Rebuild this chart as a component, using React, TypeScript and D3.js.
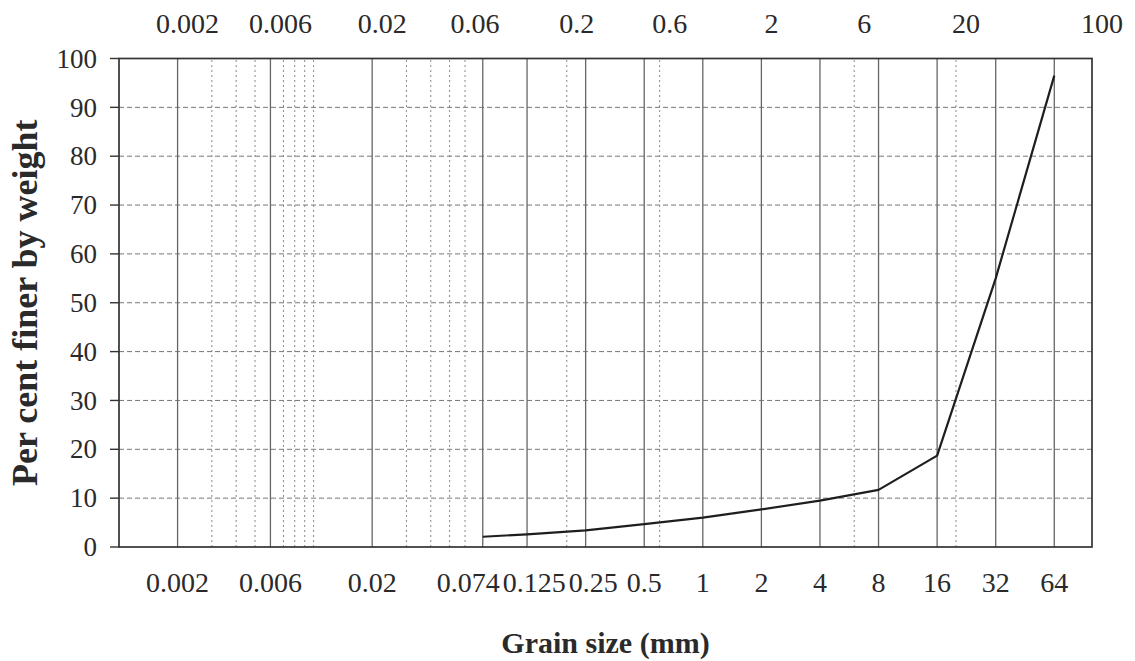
import React, { useEffect, useRef } from 'react';
import * as d3 from 'd3';

// sieve sizes drawn as solid lines and labelled under the axis
const sieveSizes = [0.002, 0.006, 0.02, 0.074, 0.125, 0.25, 0.5, 1, 2, 4, 8, 16, 32, 64];
// extra dotted lines
const minorSizes = [0.003, 0.004, 0.005, 0.007, 0.008, 0.009, 0.01, 0.03, 0.04, 0.05, 0.06, 0.2, 0.6, 6, 20];
// class boundaries written along the top
const boundaryLabels = ['0.002', '0.006', '0.02', '0.06', '0.2', '0.6', '2', '6', '20', '100'];
const yTicks = [0, 10, 20, 30, 40, 50, 60, 70, 80, 90, 100];

// grading curve
const grainSize = [0.074, 0.125, 0.25, 0.5, 1, 2, 4, 8, 16, 32, 64];
const percentFiner = [2.1, 2.6, 3.4, 4.7, 6.0, 7.7, 9.5, 11.7, 18.7, 55, 96.5];

const W = 1135, H = 661;
const margin = { top: 58.5, right: 43, bottom: 114, left: 119 };
const FONT = '"Liberation Serif", "Times New Roman", serif';
const INK = '#2a2a2a';

const draw = (node: SVGSVGElement | null) => {
  if (!node) return;
  const svg = d3.select(node);
  svg.selectAll('*').remove();

  const x = d3.scaleLog().domain([0.001, 100]).range([margin.left, W - margin.right]);
  const y = d3.scaleLinear().domain([0, 100]).range([H - margin.bottom, margin.top]);
  const [y0, y1] = [y(0), y(100)];
  const [x0, x1] = x.range();

  svg.append('rect').attr('width', W).attr('height', H).attr('fill', '#fff');

  // horizontal dashed grid
  svg.append('g').selectAll('line')
    .data(yTicks.filter(d => d > 0 && d < 100))
    .join('line')
    .attr('x1', x0).attr('x2', x1)
    .attr('y1', d => y(d)).attr('y2', d => y(d))
    .attr('stroke', '#777').attr('stroke-width', 1)
    .attr('stroke-dasharray', '5,3');

  // dotted vertical lines
  svg.append('g').selectAll('line')
    .data(minorSizes)
    .join('line')
    .attr('x1', d => x(d)).attr('x2', d => x(d))
    .attr('y1', y0).attr('y2', y1)
    .attr('stroke', '#888').attr('stroke-width', 1)
    .attr('stroke-dasharray', '2,3');

  // solid vertical lines
  svg.append('g').selectAll('line')
    .data(sieveSizes)
    .join('line')
    .attr('x1', d => x(d)).attr('x2', d => x(d))
    .attr('y1', y0).attr('y2', y1)
    .attr('stroke', '#666').attr('stroke-width', 1.3);

  // frame
  svg.append('rect')
    .attr('x', x0).attr('y', y1)
    .attr('width', x1 - x0).attr('height', y0 - y1)
    .attr('fill', 'none').attr('stroke', '#333').attr('stroke-width', 1.7);

  // y ticks + labels
  const yAxis = svg.append('g');
  yAxis.selectAll('line')
    .data(yTicks)
    .join('line')
    .attr('x1', x0 - 9).attr('x2', x0)
    .attr('y1', d => y(d)).attr('y2', d => y(d))
    .attr('stroke', '#333').attr('stroke-width', 1.4);
  yAxis.selectAll('text')
    .data(yTicks)
    .join('text')
    .attr('x', 97).attr('y', d => y(d))
    .attr('dy', '0.34em')
    .attr('text-anchor', 'end')
    .style('font-family', FONT).style('font-size', '27px')
    .attr('fill', INK)
    .text(d => d);

  // curve
  const line = d3.line<number>()
    .x((d, i) => x(grainSize[i]))
    .y(d => y(d));
  svg.append('path')
    .datum(percentFiner)
    .attr('d', line)
    .attr('fill', 'none')
    .attr('stroke', '#1e1e1e').attr('stroke-width', 2.2)
    .attr('stroke-linejoin', 'round');

  // top labels
  svg.append('g').selectAll('text')
    .data(boundaryLabels)
    .join('text')
    .attr('x', d => x(+d) + 10).attr('y', 33)
    .attr('text-anchor', 'middle')
    .style('font-family', FONT).style('font-size', '28px')
    .attr('fill', INK)
    .text(d => d);

  // bottom labels, pushed apart where they would overlap
  const bottom = svg.append('g').selectAll<SVGTextElement, number>('text')
    .data(sieveSizes)
    .join('text')
    .attr('y', 592)
    .attr('text-anchor', 'middle')
    .style('font-family', FONT).style('font-size', '28px')
    .attr('fill', INK)
    .text(d => String(d));

  const items = bottom.nodes().map((n, i) => ({ n, cx: x(sieveSizes[i]), w: n.getComputedTextLength() }));
  const gap = 3;
  for (let k = 0; k < 100; k++) {
    for (let i = 0; i < items.length - 1; i++) {
      const a = items[i], b = items[i + 1];
      const overlap = (a.cx + a.w / 2 + gap) - (b.cx - b.w / 2);
      if (overlap > 0) {
        a.cx -= overlap / 2;
        b.cx += overlap / 2;
      }
    }
  }
  items.forEach(it => d3.select(it.n).attr('x', it.cx));

  // axis titles
  svg.append('text')
    .attr('x', (x0 + x1) / 2).attr('y', 653)
    .attr('text-anchor', 'middle')
    .style('font-family', FONT).style('font-size', '30px').style('font-weight', 'bold')
    .attr('fill', INK)
    .text('Grain size (mm)');

  svg.append('text')
    .attr('transform', `translate(37, ${(y0 + y1) / 2}) rotate(-90)`)
    .attr('text-anchor', 'middle')
    .style('font-family', FONT).style('font-size', '36px').style('font-weight', 'bold')
    .attr('fill', INK)
    .text('Per cent finer by weight');
};

export default function App() {
  const ref = useRef<SVGSVGElement>(null);
  useEffect(() => {
    draw(ref.current);
  }, []);
  return (
    <svg
      ref={ref}
      width={W}
      height={H}
      style={{ position: 'absolute', left: 0, top: 0, display: 'block' }}
    />
  );
}
